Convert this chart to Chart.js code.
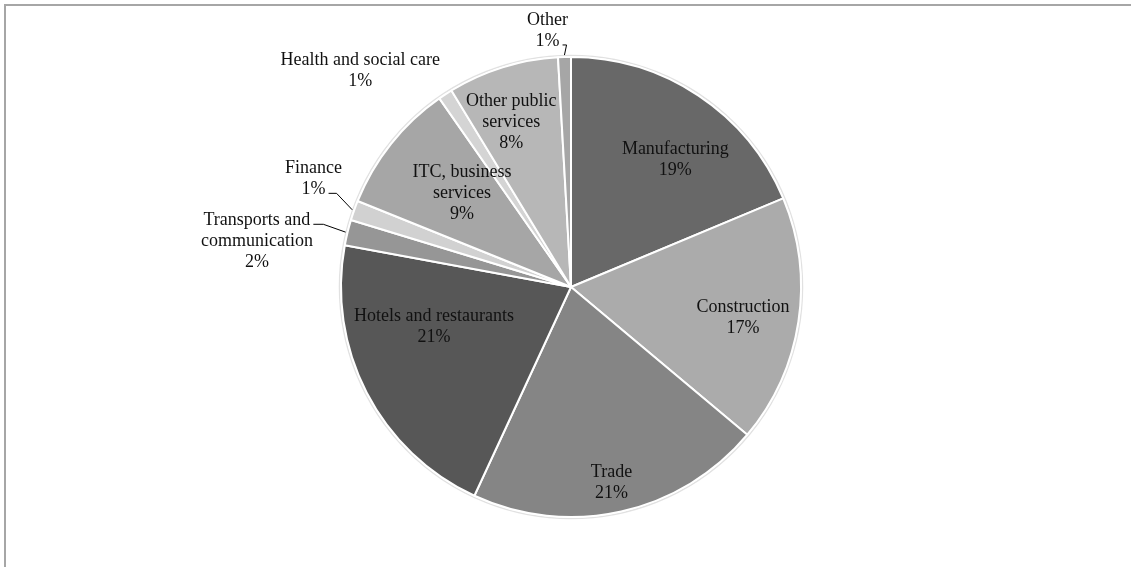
<!DOCTYPE html>
<html>
<head>
<meta charset="utf-8">
<title>Employment by sector</title>
<script src="https://cdn.jsdelivr.net/npm/chart.js@4.4.1/dist/chart.umd.min.js"></script>
<style>
  html, body { margin: 0; padding: 0; background: #ffffff; }
  #wrap { width: 1131px; height: 567px; position: relative; }
  canvas { display: block; }
</style>
</head>
<body>
<div id="wrap"><canvas id="pie" width="1131" height="567"></canvas></div>
<script>
// Sectors, clockwise from 12 o'clock
const categories = [
  'Manufacturing', 'Construction', 'Trade', 'Hotels and restaurants',
  'Transports and communication', 'Finance', 'ITC, business services',
  'Health and social care', 'Other public services', 'Other'
];

// Share of each sector, in percent
const shares = [18.7, 17.4, 20.8, 21.0, 1.8, 1.4, 9.2, 1.0, 7.8, 0.9];

// Grey fill for each slice
const sliceColors = [
  '#686868', '#ababab', '#858585', '#575757', '#969696',
  '#d1d1d1', '#a6a6a6', '#d4d4d4', '#b7b7b7', '#a6a6a6'
];

// How each category name wraps onto lines
const labelLines = [
  ['Manufacturing'], ['Construction'], ['Trade'], ['Hotels and restaurants'],
  ['Transports and', 'communication'], ['Finance'], ['ITC, business', 'services'],
  ['Health and social care'], ['Other public', 'services'], ['Other']
];

// Label placement: distance as a fraction of the radius, angular nudge (deg),
// and an optional leader line (line index it hangs from, horizontal run).
const labelPlacement = [
  { rf: 0.717, dAng: 5.6 },
  { rf: 0.760, dAng: 1.6 },
  { rf: 0.869, dAng: 0.9 },
  { rf: 0.620, dAng: 11.3 },
  { rf: 1.380, dAng: -5.4, leader: { line: 0, run: 10 } },
  { rf: 1.214, dAng: 3.35, leader: { line: 1, run: 8 } },
  { rf: 0.624, dAng: 2.1 },
  { rf: 1.314, dAng: -11.1 },
  { rf: 0.763, dAng: -2.6 },
  { rf: 1.120, dAng: -3.6, leader: { line: 1, run: 4 } }
];

const FONT = '18px "Liberation Serif", "Times New Roman", serif';
const LINE_H = 21;

// Thin grey frame along the top and left edges of the canvas
const framePlugin = {
  id: 'frame',
  beforeDraw(chart) {
    const ctx = chart.ctx;
    ctx.save();
    ctx.fillStyle = '#ffffff';
    ctx.fillRect(0, 0, chart.width, chart.height);
    ctx.fillStyle = '#a6a6a6';
    ctx.fillRect(4, 4, chart.width - 4, 2);
    ctx.fillRect(4, 4, 2, chart.height - 4);
    ctx.restore();
  }
};

// Soft grey rim just outside the pie
const rimPlugin = {
  id: 'rim',
  beforeDatasetsDraw(chart) {
    const arc = chart.getDatasetMeta(0).data[0];
    if (!arc) return;
    const { x, y, outerRadius } = arc.getProps(['x', 'y', 'outerRadius'], true);
    const ctx = chart.ctx;
    ctx.save();
    ctx.beginPath();
    ctx.arc(x, y, outerRadius + 1.5, 0, Math.PI * 2);
    ctx.strokeStyle = 'rgba(170,170,170,0.35)';
    ctx.lineWidth = 1.5;
    ctx.stroke();
    ctx.restore();
  }
};

// Category name and rounded share for every slice, with leader lines
const sliceLabelPlugin = {
  id: 'sliceLabels',
  afterDatasetsDraw(chart) {
    const ctx = chart.ctx;
    const meta = chart.getDatasetMeta(0);
    const data = chart.data.datasets[0].data;
    const total = data.reduce((a, b) => a + b, 0);
    ctx.save();
    ctx.font = FONT;
    ctx.fillStyle = '#111111';
    ctx.textAlign = 'center';
    ctx.textBaseline = 'middle';
    meta.data.forEach((arc, i) => {
      const p = arc.getProps(['x', 'y', 'startAngle', 'endAngle', 'outerRadius'], true);
      const place = labelPlacement[i];
      const mid = (p.startAngle + p.endAngle) / 2;
      const a = mid + place.dAng * Math.PI / 180;
      const ax = p.x + Math.cos(a) * place.rf * p.outerRadius;
      const ay = p.y + Math.sin(a) * place.rf * p.outerRadius;
      const pct = Math.round(data[i] / total * 100) + '%';
      const lines = labelLines[i].concat([pct]);
      const n = lines.length;
      lines.forEach((txt, k) => {
        ctx.fillText(txt, ax, ay + (k - (n - 1) / 2) * LINE_H);
      });
      if (place.leader) {
        const k = place.leader.line;
        const ly = ay + (k - (n - 1) / 2) * LINE_H + 4;
        const sx = ax + ctx.measureText(lines[k]).width / 2 + 3;
        const ex = p.x + Math.cos(mid) * (p.outerRadius + 2);
        const ey = p.y + Math.sin(mid) * (p.outerRadius + 2);
        ctx.beginPath();
        ctx.moveTo(sx, ly);
        ctx.lineTo(sx + place.leader.run, ly);
        ctx.lineTo(ex, ey);
        ctx.strokeStyle = '#000000';
        ctx.lineWidth = 1;
        ctx.stroke();
      }
    });
    ctx.restore();
  }
};

new Chart(document.getElementById('pie'), {
  type: 'pie',
  data: {
    labels: categories,
    datasets: [{
      data: shares,
      backgroundColor: sliceColors,
      borderColor: '#ffffff',
      borderWidth: 2
    }]
  },
  options: {
    responsive: false,
    animation: false,
    layout: { padding: { top: 56, bottom: 49, left: 300, right: 289 } },
    plugins: {
      legend: { display: false },
      tooltip: { enabled: false }
    }
  },
  plugins: [framePlugin, rimPlugin, sliceLabelPlugin]
});
</script>
</body>
</html>
